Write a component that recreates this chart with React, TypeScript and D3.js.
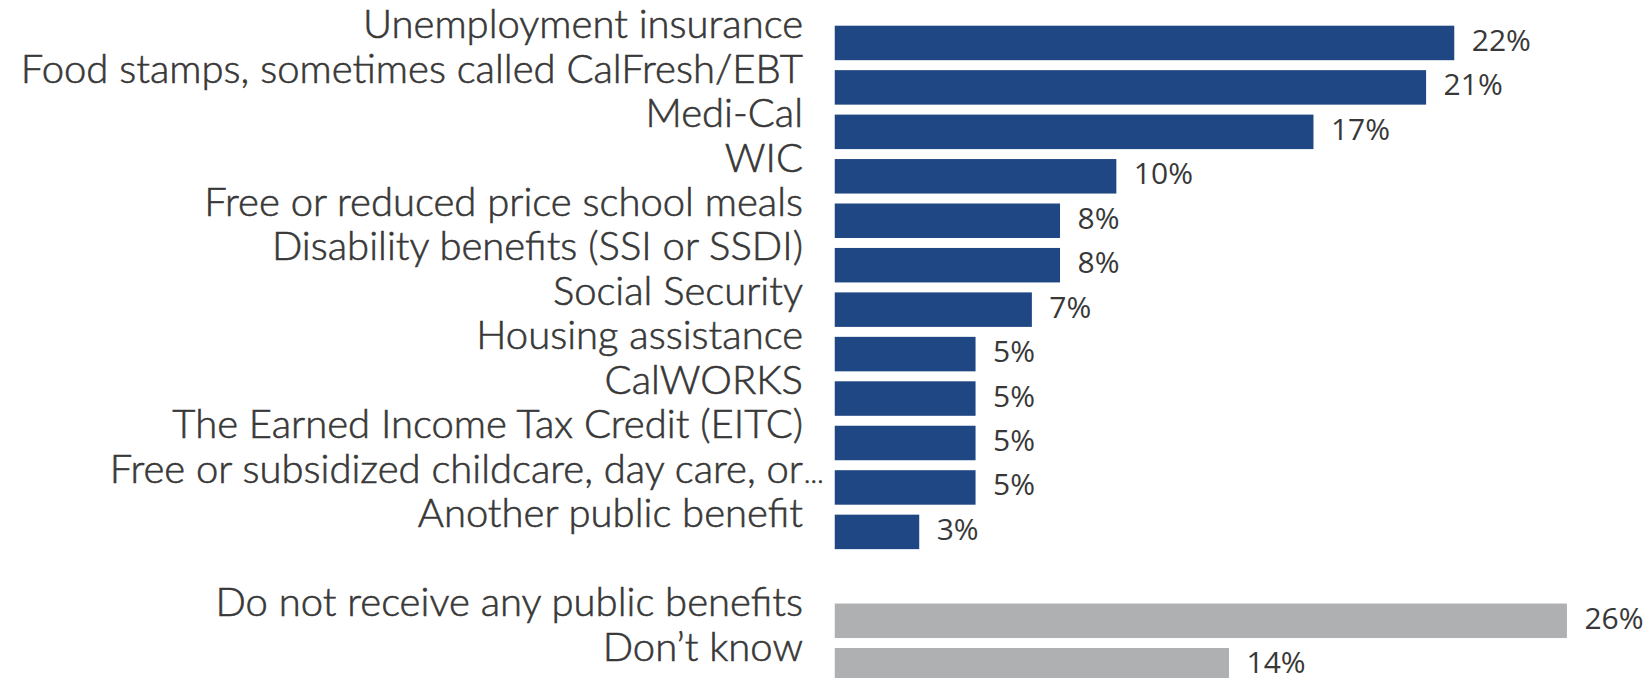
import React from "react";
import * as d3 from "d3";

const categories = [
  "Unemployment insurance",
  "Food stamps, sometimes called CalFresh/EBT",
  "Medi-Cal",
  "WIC",
  "Free or reduced price school meals",
  "Disability benefits (SSI or SSDI)",
  "Social Security",
  "Housing assistance",
  "CalWORKS",
  "The Earned Income Tax Credit (EITC)",
  "Free or subsidized childcare, day care, or",
  "Another public benefit",
];
const values = [22, 21, 17, 10, 8, 8, 7, 5, 5, 5, 5, 3];
const truncated = [false, false, false, false, false, false, false, false, false, false, true, false];

const otherCategories = ["Do not receive any public benefits", "Don\u2019t know"];
const otherValues = [26, 14];

const W = 1646;
const H = 678;
const LABEL_FONT = "Lato, 'Open Sans', sans-serif";
const VALUE_FONT = "'Open Sans', 'Noto Sans', sans-serif";
const BLUE = "#1f4783";
const GRAY = "#afb0b2";
const TEXT = "#383838";

type Row = { key: string; label: string; value: number; color: string; trunc: boolean };

const rows: Row[] = [
  ...categories.map((c, i) => ({ key: c, label: c, value: values[i], color: BLUE, trunc: truncated[i] })),
  ...otherCategories.map((c, i) => ({ key: c, label: c, value: otherValues[i], color: GRAY, trunc: false })),
];
const domainKeys = [...categories, "__gap__", ...otherCategories];

export default function App() {
  const step = 44.45;
  const pInner = 0.224;
  const y0 = 25.7;
  const y = d3
    .scaleBand<string>()
    .domain(domainKeys)
    .range([y0, y0 + step * (domainKeys.length - pInner)])
    .paddingInner(pInner)
    .paddingOuter(0);
  const x = d3.scaleLinear().domain([0, 26]).range([834.75, 834.75 + 26 * 28.16]);
  const labelX = 803;
  const bw = y.bandwidth();

  return (
    <svg
      width={W}
      height={H}
      style={{ position: "absolute", left: 0, top: 0, display: "block", overflow: "hidden", background: "#fff" }}
    >
      {rows.map((r) => {
        const top = y(r.key)!;
        const cy = top + bw / 2;
        return (
          <g key={r.key}>
            <rect x={x(0)} y={top} width={x(r.value) - x(0)} height={bw} fill={r.color} />
            <text
              x={labelX}
              y={cy - 4.7}
              textAnchor="end"
              fontFamily={LABEL_FONT}
              fontWeight={300}
              fontSize={40}
              fill={TEXT}
              stroke={TEXT}
              strokeWidth={0.6}
            >
              {r.label}
            </text>
            {r.trunc && (
              <text
                x={labelX + 1}
                y={cy - 4.7}
                textAnchor="start"
                fontFamily={LABEL_FONT}
                fontWeight={300}
                fontSize={27}
                fill={TEXT}
                stroke={TEXT}
                strokeWidth={0.6}
              >
                {"\u2026"}
              </text>
            )}
            <text
              x={x(r.value) + 17.5}
              y={cy + 8}
              textAnchor="start"
              fontFamily={VALUE_FONT}
              fontSize={30}
              fill={TEXT}
            >
              {d3.format(".0f")(r.value) + "%"}
            </text>
          </g>
        );
      })}
    </svg>
  );
}
